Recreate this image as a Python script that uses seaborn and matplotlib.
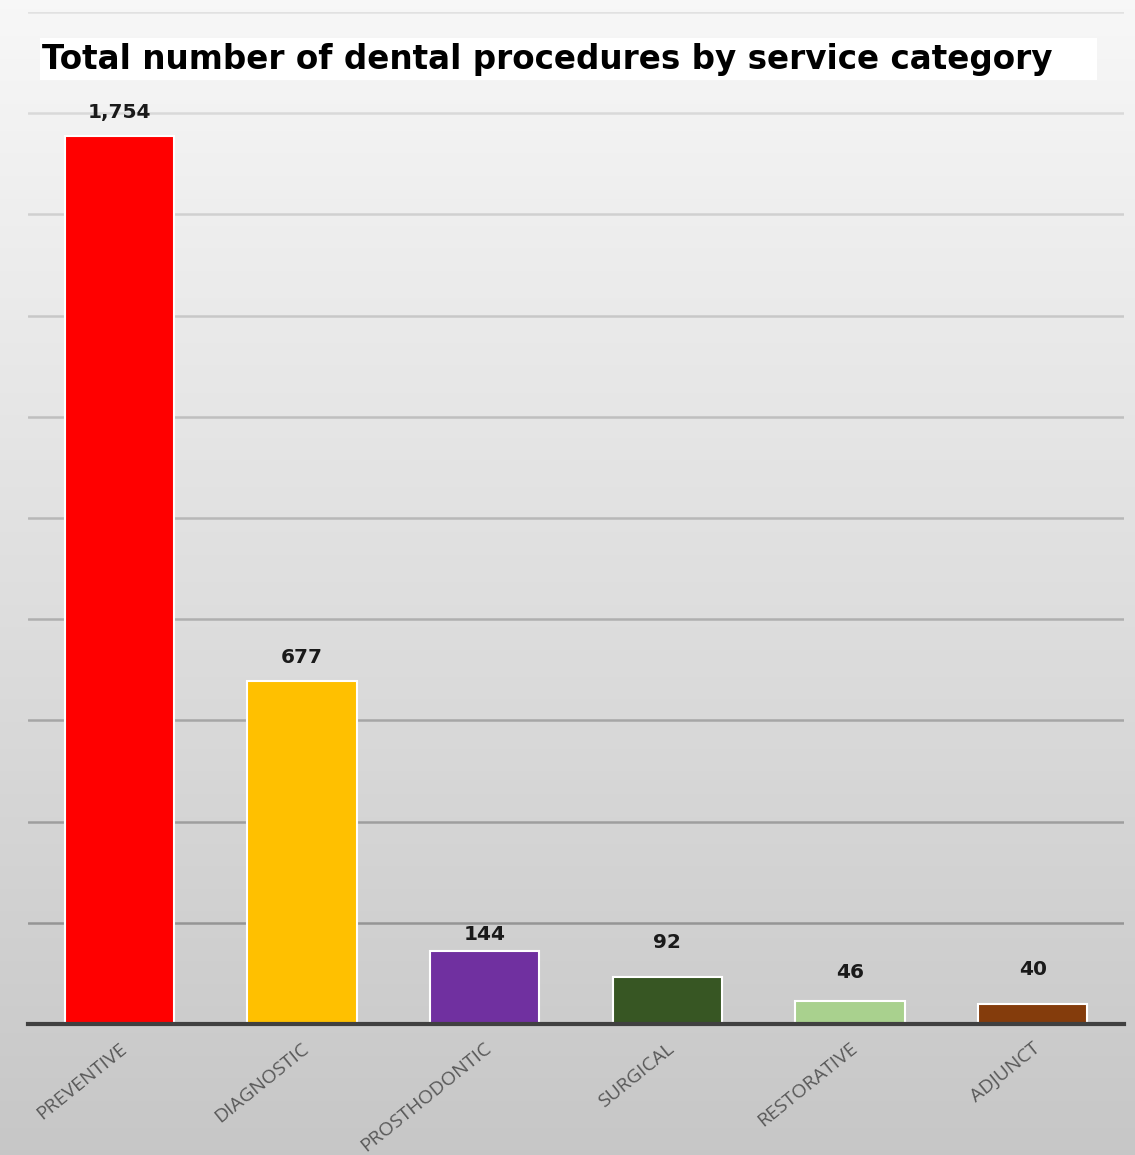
import numpy as np
import pandas as pd
import matplotlib
matplotlib.use("Agg")
import matplotlib.pyplot as plt
from matplotlib.patches import Rectangle
from matplotlib.transforms import ScaledTranslation
import seaborn as sns

categories = ["PREVENTIVE", "DIAGNOSTIC", "PROSTHODONTIC", "SURGICAL", "RESTORATIVE", "ADJUNCT"]
values = [1754, 677, 144, 92, 46, 40]
value_labels = ["1,754", "677", "144", "92", "46", "40"]
colors = ["#FF0000", "#FFC000", "#7030A0", "#375623", "#A9D18E", "#843C0C"]
title = "Total number of dental procedures by service category"

# label placement offsets (pixels from bar top to label centre), style only
label_offsets_px = [24, 24, 17, 35, 28, 34]

sns.set_theme(style="white")
plt.rcParams['font.family'] = ['Open Sans', 'DejaVu Sans']

W, H = 1135, 1155
fig = plt.figure(figsize=(W / 100, H / 100), dpi=100)

# background gradient
bg = fig.add_axes([0, 0, 1, 1], zorder=-10)
grad = np.linspace(0, 1, 256).reshape(-1, 1)
g = 0.97 * (1 - grad) + 0.78 * grad
img = np.repeat(g[:, :, None], 3, axis=2)
bg.imshow(img, aspect="auto", extent=[0, 1, 0, 1], origin="upper")
bg.set_axis_off()

left, right = 28 / W, 1124 / W
bottom, topy = 1 - 1024 / H, 1 - 12 / H
ax = fig.add_axes([left, bottom, right - left, topy - bottom])
ax.set_facecolor("none")

df = pd.DataFrame({"category": categories, "value": values})
sns.barplot(data=df, x="category", y="value", hue="category", palette=colors,
            legend=False, width=0.6, edgecolor="white", linewidth=1.5, ax=ax,
            saturation=1, zorder=3)

ax.set_xlim(-0.5, 5.5)
ax.set_ylim(0, 2000)
ax.set_yticks(np.arange(0, 2001, 200))
ax.set_yticklabels([])
ax.yaxis.grid(False)
for v in np.arange(200, 2001, 200):
    gray = 0.585 + (v - 200) / 1600 * (0.85 - 0.585)
    ax.axhline(v, color=(gray, gray, gray), linewidth=1.8, zorder=1)
for s in ["top", "left", "right"]:
    ax.spines[s].set_visible(False)
ax.spines["bottom"].set_color("#404040")
ax.spines["bottom"].set_linewidth(3)
ax.spines["bottom"].set_zorder(5)
ax.tick_params(axis="both", length=0)
ax.set_xlabel("")
ax.set_ylabel("")

ax.set_xticks(range(len(categories)))
ax.set_xticklabels(categories, rotation=39, ha="right", va="center",
                   rotation_mode="anchor", fontsize=14, color="#595959")
ax.tick_params(axis="x", pad=16)
shift = ScaledTranslation(5 / 100, 0, fig.dpi_scale_trans)
for lbl in ax.get_xticklabels():
    lbl.set_transform(lbl.get_transform() + shift)

for i, (v, lab, off) in enumerate(zip(values, value_labels, label_offsets_px)):
    ax.annotate(lab, (i, v), xytext=(0, off * 0.72), textcoords="offset points",
                ha="center", va="center", fontsize=14.5, fontweight="bold",
                color="#1a1a1a", family="DejaVu Sans")

# title box
fig.patches.append(Rectangle((40 / W, 1 - 80 / H), (1097 - 40) / W, 42 / H,
                             transform=fig.transFigure, facecolor="white",
                             edgecolor="none", zorder=1))
t = fig.text(42 / W, 1 - 60 / H, title, ha="left", va="center", fontsize=24,
             fontweight="bold", color="black", zorder=2, family="DejaVu Sans")
fig.canvas.draw()
wpx = t.get_window_extent().width
t.set_fontsize(24 * 1010 / wpx)

fig.savefig("out.png", dpi=100)
